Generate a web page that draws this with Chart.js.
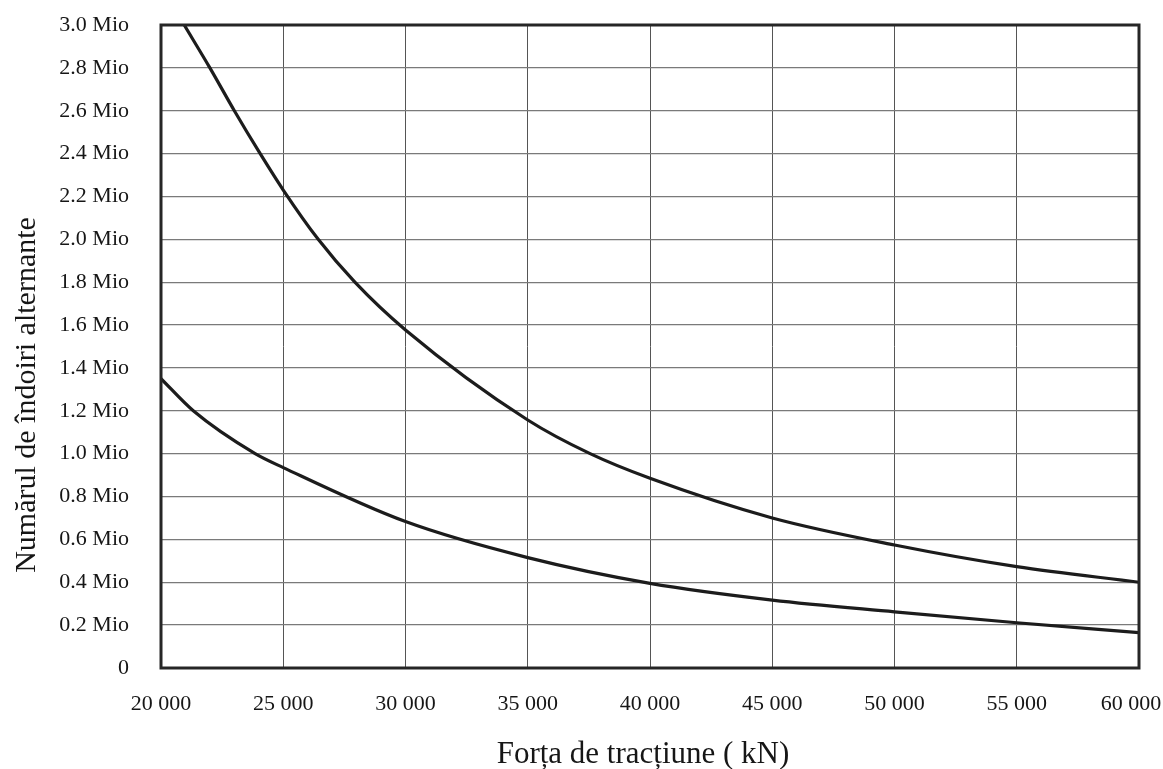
<!DOCTYPE html>
<html>
<head>
<meta charset="utf-8">
<title>Număr de îndoiri alternante</title>
<script src="https://cdn.jsdelivr.net/npm/chart.js@4/dist/chart.umd.min.js"></script>
<style>
  html, body { margin: 0; padding: 0; background: #ffffff; }
  #wrap { width: 1163px; height: 769px; }
</style>
</head>
<body>
<div id="wrap"><canvas id="c" width="1163" height="769"></canvas></div>
<script>
// Upper curve: force (kN) and number of alternating bends (millions)
const upperForce = [20950, 22000, 23000, 24000, 25000, 26430, 27930, 30000, 35000, 37550, 40000, 45000, 50000, 55000, 60000];
const upperBends = [3.00, 2.80, 2.60, 2.41, 2.23, 2.00, 1.80, 1.577, 1.157, 1.00, 0.885, 0.70, 0.574, 0.473, 0.40];

// Lower curve
const lowerForce = [20000, 21320, 23850, 25000, 30000, 35000, 40000, 45000, 50000, 55000, 60000];
const lowerBends = [1.35, 1.20, 1.00, 0.935, 0.683, 0.515, 0.395, 0.317, 0.262, 0.211, 0.165];

// Axis tick values and their labels
const xTickValues = [20000, 25000, 30000, 35000, 40000, 45000, 50000, 55000, 60000];
const xTickLabels = ['20 000', '25 000', '30 000', '35 000', '40 000', '45 000', '50 000', '55 000', '60 000'];
const yTickValues = [0, 0.2, 0.4, 0.6, 0.8, 1.0, 1.2, 1.4, 1.6, 1.8, 2.0, 2.2, 2.4, 2.6, 2.8, 3.0];
const yTickLabels = ['0', '0.2 Mio', '0.4 Mio', '0.6 Mio', '0.8 Mio', '1.0 Mio', '1.2 Mio', '1.4 Mio', '1.6 Mio', '1.8 Mio', '2.0 Mio', '2.2 Mio', '2.4 Mio', '2.6 Mio', '2.8 Mio', '3.0 Mio'];

const xTitle = 'Forța de tracțiune ( kN)';
const yTitle = 'Numărul de îndoiri alternante';

const toPoints = (xs, ys) => xs.map((x, i) => ({ x: x, y: ys[i] }));
const labelFor = (values, labels, v) => {
  const i = values.findIndex(t => Math.abs(t - v) < 1e-6);
  return i >= 0 ? labels[i] : '';
};

const SERIF = '"Liberation Serif", "DejaVu Serif", "Times New Roman", serif';
const INK = '#161616';
const TICK_FONT = '22px ' + SERIF;

// Frame around the plot area, the last x label (kept inside the page) and the axis titles
const framePlugin = {
  id: 'frameAndTitles',
  afterDatasetsDraw(chart) {
    const { ctx, chartArea: a } = chart;
    ctx.save();
    ctx.strokeStyle = '#262626';
    ctx.lineWidth = 3;
    ctx.strokeRect(a.left, a.top, a.right - a.left, a.bottom - a.top);
    ctx.restore();
  },
  afterDraw(chart) {
    const { ctx } = chart;
    const xs = chart.scales.x;
    const last = xTickValues.length - 1;
    ctx.save();
    ctx.fillStyle = INK;
    ctx.font = TICK_FONT;
    ctx.textAlign = 'center';
    ctx.textBaseline = 'middle';
    ctx.fillText(xTickLabels[last], xs.getPixelForValue(xTickValues[last]) - 8, 704);

    ctx.font = '31px ' + SERIF;
    ctx.textBaseline = 'alphabetic';
    ctx.fillText(xTitle, 643, 763);
    ctx.translate(35, 395);
    ctx.rotate(-Math.PI / 2);
    ctx.font = '30px ' + SERIF;
    ctx.fillText(yTitle, 0, 0);
    ctx.restore();
  }
};

// Tick labels may overhang the plot; keep them from shrinking the plot area
const noOverhang = (scale) => {
  scale.paddingTop = 0;
  scale.paddingBottom = 0;
  scale.paddingLeft = 0;
  scale.paddingRight = 0;
};

const lineStyle = {
  borderColor: '#1c1c1c',
  borderWidth: 3.2,
  pointRadius: 0,
  fill: false,
  cubicInterpolationMode: 'monotone'
};

new Chart(document.getElementById('c'), {
  type: 'line',
  data: {
    datasets: [
      Object.assign({ label: 'upper', data: toPoints(upperForce, upperBends) }, lineStyle),
      Object.assign({ label: 'lower', data: toPoints(lowerForce, lowerBends) }, lineStyle)
    ]
  },
  options: {
    responsive: false,
    animation: false,
    layout: { padding: { left: 0, top: 25, right: 24, bottom: 0 } },
    plugins: {
      legend: { display: false },
      tooltip: { enabled: false }
    },
    scales: {
      x: {
        type: 'linear',
        min: 20000,
        max: 60000,
        afterFit(scale) { scale.height = 101; noOverhang(scale); },
        afterBuildTicks(scale) { scale.ticks = xTickValues.map(v => ({ value: v })); },
        ticks: {
          padding: 23,
          maxRotation: 0,
          autoSkip: false,
          color: INK,
          font: { family: SERIF, size: 22 },
          // the last label is drawn by the plugin, nudged left to stay on the page
          callback: v => (v === xTickValues[xTickValues.length - 1] ? '' : labelFor(xTickValues, xTickLabels, v))
        },
        grid: { color: '#555555', lineWidth: 1, drawTicks: false },
        border: { display: false }
      },
      y: {
        type: 'linear',
        min: 0,
        max: 3.0,
        afterFit(scale) { scale.width = 161; noOverhang(scale); },
        afterBuildTicks(scale) { scale.ticks = yTickValues.map(v => ({ value: v })); },
        ticks: {
          padding: 32,
          autoSkip: false,
          color: INK,
          font: { family: SERIF, size: 22 },
          callback: v => labelFor(yTickValues, yTickLabels, v)
        },
        grid: { color: '#7a7a7a', lineWidth: 1.3, drawTicks: false },
        border: { display: false }
      }
    }
  },
  plugins: [framePlugin]
});
</script>
</body>
</html>
